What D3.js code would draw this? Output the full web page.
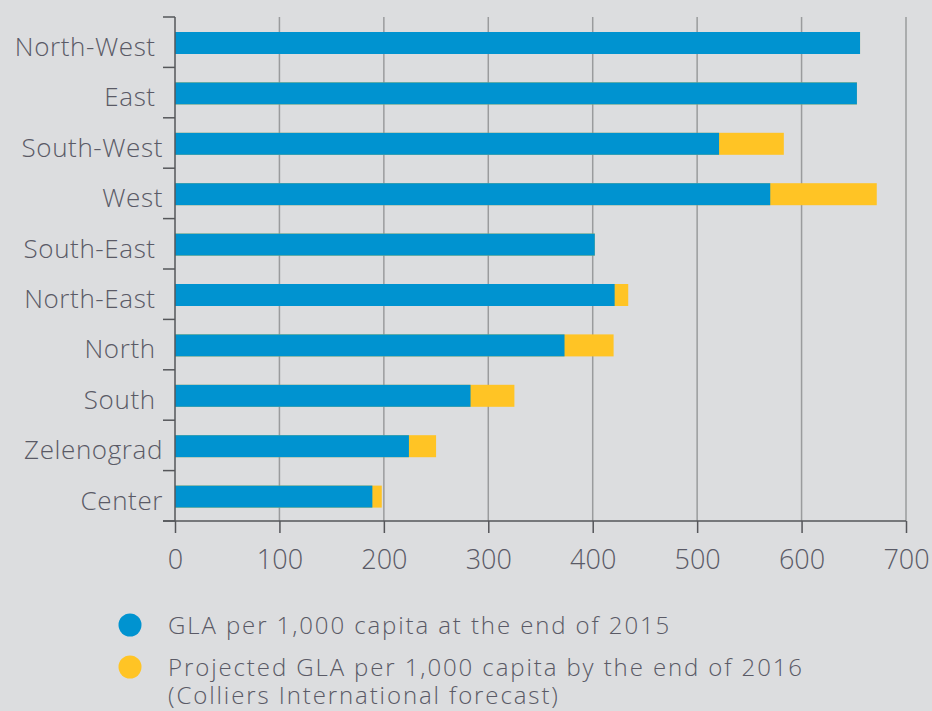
<!DOCTYPE html>
<html>
<head>
<meta charset="utf-8">
<script src="https://cdn.jsdelivr.net/npm/d3@7"></script>
<style>
  body { margin: 0; background: #dcdddf; }
  text { font-family: "Open Sans", sans-serif; font-weight: 300; fill: #5a5a66; }
</style>
</head>
<body>
<div id="chart"></div>
<script>
var districts = ["North-West", "East", "South-West", "West", "South-East",
	"North-East", "North", "South", "Zelenograd", "Center"];
// some source labels carry a trailing space, so they end a little earlier
var districtLabels = ["North-West\u00a0", "East\u00a0", "South-West", "West", "South-East\u00a0",
	"North-East\u00a0", "North\u00a0", "South\u00a0", "Zelenograd", "Center"];
var gla2015 = [656, 653, 521, 570, 402, 421, 373, 283, 224, 189];
var gla2016 = [656, 653, 583, 672, 402, 434, 420, 325, 250, 198];
var xTicks = [0, 100, 200, 300, 400, 500, 600, 700];
var legendLabels = [
	["GLA per 1,000 capita at the end of 2015"],
	["Projected GLA per 1,000 capita by the end of 2016", "(Colliers International forecast)"]
];
var colors = ["#0093d0", "#ffc425"];

var width = 932, height = 711;
var margin = {top: 17, left: 175, right: 26, bottom: 190};

var svg = d3.select("#chart").append("svg")
	.attr("width", width).attr("height", height);

svg.append("rect").attr("width", width).attr("height", height).attr("fill", "#dcdddf");

var x = d3.scaleLinear().domain([0, 700]).range([margin.left, width - margin.right]);
// one band per district, bars sit a little below the band middle
var y = d3.scaleBand().domain(districts)
	.range([margin.top, height - margin.bottom]);
var barOffset = 15, barHeight = 22;

// vertical grid lines
svg.append("g").selectAll("line")
	.data(xTicks.slice(1))
	.enter().append("line")
	.attr("x1", function(d) { return x(d); })
	.attr("x2", function(d) { return x(d); })
	.attr("y1", margin.top)
	.attr("y2", height - margin.bottom)
	.attr("stroke", "#9a9b9d")
	.attr("stroke-width", 1.5);

// projected (yellow) bars behind
svg.append("g").selectAll("rect")
	.data(districts)
	.enter().append("rect")
	.attr("x", x(0))
	.attr("y", function(d) { return y(d) + barOffset; })
	.attr("width", function(d, i) { return x(gla2016[i]) - x(0); })
	.attr("height", barHeight)
	.attr("fill", colors[1]);

// 2015 (blue) bars
svg.append("g").selectAll("rect")
	.data(districts)
	.enter().append("rect")
	.attr("x", x(0))
	.attr("y", function(d) { return y(d) + barOffset; })
	.attr("width", function(d, i) { return x(gla2015[i]) - x(0); })
	.attr("height", barHeight)
	.attr("fill", colors[0]);

// y axis with ticks between bands
var yAxis = svg.append("g").attr("transform", "translate(" + x(0) + ",0)");
yAxis.append("line")
	.attr("y1", margin.top).attr("y2", height - margin.bottom)
	.attr("stroke", "#55565a").attr("stroke-width", 1.5);
var bounds = districts.map(function(d) { return y(d); }).concat([height - margin.bottom]);
yAxis.selectAll("line.tick")
	.data(bounds)
	.enter().append("line")
	.attr("class", "tick")
	.attr("x1", -12).attr("x2", 0)
	.attr("y1", function(d) { return d; }).attr("y2", function(d) { return d; })
	.attr("stroke", "#55565a").attr("stroke-width", 1.5);
yAxis.selectAll("text")
	.data(districts)
	.enter().append("text")
	.attr("x", -12)
	.attr("y", function(d) { return y(d) + 39; })
	.attr("text-anchor", "end")
	.style("font-size", "26px")
	.style("letter-spacing", "0.6px")
	.text(function(d, i) { return districtLabels[i]; });

// x axis
var xAxis = d3.axisBottom(x).tickValues(xTicks).tickSize(12);
var gx = svg.append("g")
	.attr("transform", "translate(0," + (height - margin.bottom) + ")")
	.call(xAxis);
gx.select(".domain").remove();
gx.append("line")
	.attr("x1", x(0) - 12).attr("x2", x(700))
	.attr("stroke", "#55565a").attr("stroke-width", 1.5);
gx.selectAll(".tick line").attr("stroke", "#55565a").attr("stroke-width", 1.5);
gx.selectAll(".tick text")
	.attr("y", 48).attr("dy", null)
	.style("font-size", "27px")
	.style("font-family", "'Open Sans', sans-serif")
	.style("font-weight", 300)
	.attr("fill", "#5a5a66");

// legend
var legend = svg.append("g");
var legendY = [625, 667];
legendLabels.forEach(function(lines, i) {
	legend.append("circle")
		.attr("cx", 130).attr("cy", legendY[i]).attr("r", 11.5)
		.attr("fill", colors[i]);
	lines.forEach(function(line, j) {
		legend.append("text")
			.attr("x", 168)
			.attr("y", legendY[i] + 9 + j * 28)
			.style("font-size", "24px")
			.style("letter-spacing", "1.9px")
			.text(line);
	});
});
</script>
</body>
</html>
